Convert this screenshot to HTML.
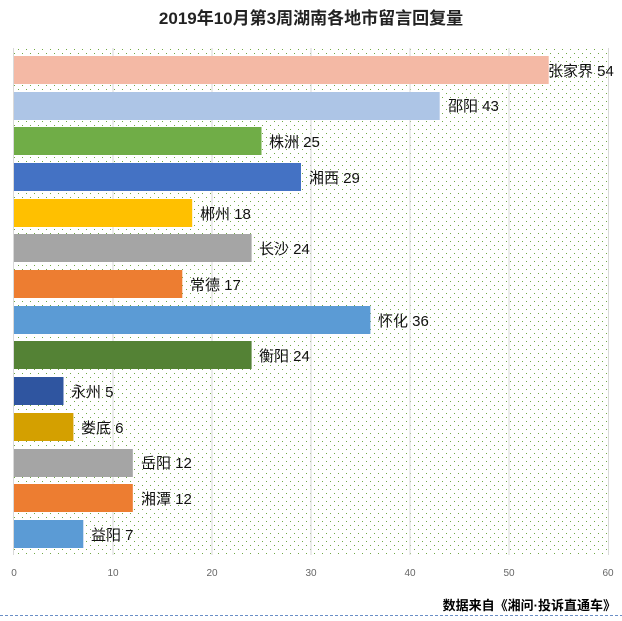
<!DOCTYPE html>
<html><head><meta charset="utf-8"><style>
body{margin:0;background:#fff;width:622px;height:616px;overflow:hidden;font-family:"Liberation Sans","Noto Sans CJK SC",sans-serif}
</style></head><body>
<svg width="622" height="616" xmlns="http://www.w3.org/2000/svg" font-family="Liberation Sans, Noto Sans CJK SC, sans-serif">
<defs><pattern id="d" width="8" height="8" patternUnits="userSpaceOnUse" x="2" y="1"><rect x="0" y="0" width="1" height="1" fill="#70a845"/><rect x="4" y="4" width="1" height="1" fill="#70a845"/></pattern></defs>
<text x="311" y="24" text-anchor="middle" font-size="17" font-weight="bold" fill="#222">2019年10月第3周湖南各地市留言回复量</text>
<rect x="14" y="48" width="595" height="507" fill="url(#d)"/>
<g stroke="#d9d9d9" stroke-width="1">
<line x1="13.5" y1="48" x2="13.5" y2="555"/><line x1="113" y1="48" x2="113" y2="555"/><line x1="212" y1="48" x2="212" y2="555"/><line x1="311" y1="48" x2="311" y2="555"/><line x1="410" y1="48" x2="410" y2="555"/><line x1="509" y1="48" x2="509" y2="555"/><line x1="608.5" y1="48" x2="608.5" y2="555"/>
</g>
<g font-size="10" fill="#666" text-anchor="middle">
<text x="14" y="576">0</text><text x="113" y="576">10</text><text x="212" y="576">20</text><text x="311" y="576">30</text><text x="410" y="576">40</text><text x="509" y="576">50</text><text x="608" y="576">60</text>
</g>
<g font-size="15" fill="#111">
<rect x="14" y="56" width="534.7" height="28" fill="#f4b9a5"/><text x="548" y="76">张家界 54</text>
<rect x="14" y="92" width="425.7" height="28" fill="#adc5e6"/><text x="448" y="111">邵阳 43</text>
<rect x="14" y="127" width="247.5" height="28" fill="#70ad47"/><text x="269" y="147">株洲 25</text>
<rect x="14" y="163" width="287" height="28" fill="#4472c4"/><text x="309" y="183">湘西 29</text>
<rect x="14" y="199" width="178.2" height="28" fill="#ffc000"/><text x="200" y="219">郴州 18</text>
<rect x="14" y="234" width="237.6" height="28" fill="#a5a5a5"/><text x="259" y="254">长沙 24</text>
<rect x="14" y="270" width="168.3" height="28" fill="#ed7d31"/><text x="190" y="290">常德 17</text>
<rect x="14" y="306" width="356.4" height="28" fill="#5b9bd5"/><text x="378" y="326">怀化 36</text>
<rect x="14" y="341" width="237.6" height="28" fill="#548235"/><text x="259" y="361">衡阳 24</text>
<rect x="14" y="377" width="49.5" height="28" fill="#2f55a0"/><text x="71" y="397">永州 5</text>
<rect x="14" y="413" width="59.4" height="28" fill="#d4a000"/><text x="81" y="433">娄底 6</text>
<rect x="14" y="449" width="118.8" height="28" fill="#a5a5a5"/><text x="141" y="468">岳阳 12</text>
<rect x="14" y="484" width="118.8" height="28" fill="#ed7d31"/><text x="141" y="504">湘潭 12</text>
<rect x="14" y="520" width="69.3" height="28" fill="#5b9bd5"/><text x="91" y="540">益阳 7</text>
</g>
<text x="616" y="610" text-anchor="end" font-size="13" font-weight="bold" fill="#000">数据来自《湘问·投诉直通车》</text>
<line x1="0" y1="615.5" x2="622" y2="615.5" stroke="#6a8fc7" stroke-dasharray="3,2"/>
</svg>
</body></html>
